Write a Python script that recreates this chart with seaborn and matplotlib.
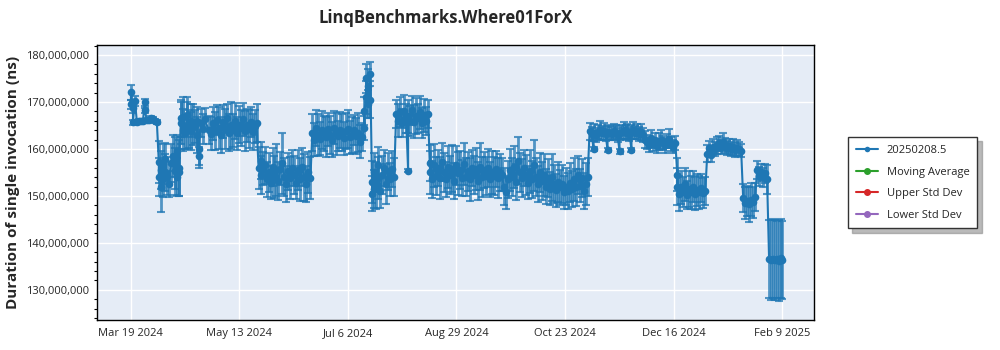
import datetime as dt

import matplotlib
matplotlib.use("Agg")
import matplotlib.pyplot as plt
import matplotlib.ticker as mticker
import numpy as np
import pandas as pd
import seaborn as sns

# Benchmark runs: day offset from the first run, mean duration and std dev (millions of ns)
first_run = dt.datetime(2024, 3, 19, 15, 36)
last_run = dt.datetime(2025, 2, 9, 4, 0)

day_offset = [
    0, 0, 1, 1, 2, 3, 4, 5, 6, 7, 7, 8, 9, 10, 11, 12, 13,
    14, 14, 15, 15, 16, 16, 17, 17, 18, 19, 20,
    21, 22, 22, 23, 23, 24, 24,
    25, 25, 26, 26, 27, 28, 28, 29, 30, 30, 31, 32, 33, 33, 34, 34, 35, 36, 37,
    39, 40, 41, 42, 43, 44, 45, 46, 47, 48, 49, 50, 51, 52, 53, 54, 55, 56, 57, 58, 59, 60, 61, 62, 63,
    64, 65, 65, 66, 67, 68, 69, 70, 71, 72, 73, 74, 75, 76, 77, 78, 79, 80, 81, 82, 83, 84, 85, 86, 87, 88, 89, 90,
    91, 92, 93, 94, 95, 96, 97, 98, 99, 100, 101, 102, 103, 104, 105, 106, 107, 108, 109, 110, 111, 112, 113, 114, 115, 116,
    117, 117, 118, 118, 119, 119, 120, 120,
    121, 121, 122, 122, 123, 124, 124, 125, 126, 127, 128, 129, 130, 131, 132,
    133, 134, 135, 136, 137, 138, 139, 139, 140, 141, 142, 143, 144, 145, 146, 147, 148, 149,
    150, 150, 151, 152, 153, 154, 155, 156, 157, 158, 159, 160, 161, 162, 163, 164, 165, 166, 167, 168,
    169, 170, 171, 172, 173, 174, 175, 176, 177, 178, 179, 180, 181, 182, 183, 184, 185, 186,
    187, 188, 189, 190, 191, 192, 193, 194, 195, 196, 197, 198, 199, 200, 201, 202, 203, 204, 205, 206,
    207, 208, 209, 210, 211, 212, 213, 214, 215, 216, 217, 218, 219, 220, 221, 222, 223, 224, 225, 226,
    227, 228, 229,
    230, 231, 232, 232, 233, 234, 235, 236, 237, 238, 239, 239, 240, 241, 242, 243, 244, 245, 245, 246,
    247, 248, 249, 250, 251, 251, 252, 253, 254, 255, 256, 257,
    258, 259, 260, 261, 262, 263, 264, 265, 266, 267, 268, 269, 270, 271, 272, 273,
    274, 274, 275, 276, 277, 278, 279, 280, 281, 282, 283, 284, 285, 286, 287, 288,
    289, 290, 291, 292, 293, 294, 295, 296, 297, 298, 299, 300, 301, 302, 303, 304, 305, 306,
    307, 308, 309, 310, 311, 312, 313,
    314, 315, 316, 317, 318, 319,
    320, 321, 322, 323, 324, 325, 326, 327,
]

mean_ms = [
    169.5, 172.1, 168.8, 165.7, 170.2, 165.8, 166.0, 166.0, 165.9, 169.9, 168.2, 166.1, 166.2, 166.6, 166.4, 166.0, 165.8,
    157.2, 154.0, 155.5, 152.0, 156.8, 153.5, 155.0, 157.8, 154.2, 152.5, 157.0,
    158.5, 155.3, 157.0, 154.0, 159.5, 156.0, 155.0,
    165.5, 166.5, 164.0, 166.8, 163.5, 165.0, 167.2, 164.2, 166.0, 163.8, 165.2, 164.8, 166.0, 163.0, 158.5, 160.0, 165.5, 164.2, 166.3,
    164.0, 163.2, 165.5, 163.8, 166.2, 164.5, 163.0, 165.8, 164.2, 166.5, 163.5, 165.0, 164.0, 166.0, 163.3, 165.2, 164.5, 166.3, 163.8, 165.0, 164.3, 165.8, 163.6, 164.8, 165.5,
    156.0, 157.5, 154.5, 155.8, 156.5, 153.5, 155.0, 152.8, 156.2, 154.0, 155.5, 153.2, 155.8, 157.0, 154.0, 152.5, 155.2, 153.8, 156.0, 154.5, 152.8, 155.5, 153.5, 156.2, 154.0, 152.6, 155.0, 153.8,
    163.5, 162.0, 164.5, 163.0, 162.2, 164.0, 163.3, 162.5, 164.2, 163.0, 162.0, 164.5, 163.2, 162.8, 164.0, 163.5, 162.3, 163.8, 164.2, 162.5, 163.0, 164.0, 162.8, 163.5, 161.5, 162.5,
    164.5, 168.0, 171.0, 175.0, 173.5, 169.5, 170.5, 176.0,
    150.5, 153.0, 151.5, 155.0, 152.2, 156.5, 153.8, 151.0, 154.5, 156.0, 152.5, 155.2, 153.5, 155.8, 154.0,
    167.5, 166.0, 167.8, 165.5, 168.0, 166.5, 155.4, 167.0, 166.0, 168.2, 165.8, 167.0, 166.5, 167.8, 165.5, 167.2, 166.0, 167.5,
    155.0, 157.0, 153.5, 156.5, 154.2, 156.0, 153.8, 157.2, 155.0, 153.5, 156.2, 154.5, 155.8, 153.2, 156.5, 154.8, 155.5, 153.8, 156.8, 154.0,
    155.2, 153.5, 156.0, 154.5, 155.8, 153.2, 156.2, 154.0, 155.5, 154.2, 156.0, 153.5, 155.0, 154.2, 155.8, 153.8, 155.0, 154.5,
    152.0, 150.8, 153.5, 155.5, 154.0, 156.2, 153.0, 157.5, 155.0, 153.8, 156.0, 154.5, 152.8, 155.2, 153.5, 156.5, 154.0, 152.5, 155.0, 153.2,
    154.5, 152.0, 153.8, 151.5, 154.0, 152.5, 151.2, 153.0, 151.8, 152.5, 150.8, 152.0, 151.0, 152.8, 151.5, 153.5, 151.8, 154.5, 152.2, 153.8,
    151.0, 152.5, 154.0,
    163.8, 163.2, 160.0, 163.5, 163.0, 163.6, 164.0, 163.4, 163.8, 163.2, 159.8, 163.6, 163.4, 163.2, 163.8, 163.5, 163.0, 159.5, 163.4, 163.6,
    164.0, 163.5, 163.8, 163.2, 159.8, 163.6, 164.0, 163.5, 163.8, 163.2, 163.6, 163.0,
    162.0, 161.5, 160.8, 162.3, 161.0, 161.8, 160.6, 161.5, 162.0, 161.2, 160.8, 161.6, 162.2, 161.0, 160.5, 161.3,
    154.5, 152.0, 150.5, 151.8, 150.8, 152.5, 150.2, 151.5, 150.8, 152.0, 150.5, 151.2, 150.8, 151.6, 150.6, 151.0,
    159.0, 160.2, 158.8, 160.5, 160.0, 160.8, 161.2, 160.5, 161.5, 160.8, 160.2, 160.6, 160.0, 160.5, 159.8, 160.2, 160.0, 159.6,
    149.5, 148.5, 149.0, 148.2, 149.2, 148.6, 149.8,
    155.5, 154.2, 155.0, 154.0, 154.8, 153.5,
    136.5, 136.3, 136.6, 136.4, 136.5, 136.2, 136.7, 136.4,
]

stddev_ms = [
    1.0, 1.6, 1.2, 0.5, 1.0, 0.4, 0.4, 0.4, 0.4, 0.8, 0.5, 0.4, 0.4, 0.4, 0.4, 0.4, 0.4,
    4.5, 4.0, 4.0, 5.5, 4.2, 3.8, 4.0, 3.5, 4.0, 2.8, 4.0,
    4.5, 5.0, 5.5, 4.0, 3.5, 6.0, 5.0,
    4.5, 4.0, 4.5, 4.2, 3.5, 5.0, 3.8, 4.0, 3.5, 4.0, 4.3, 3.5, 3.0, 3.8, 2.0, 4.0, 3.0, 3.2, 2.5,
    3.0, 3.5, 3.5, 4.0, 3.2, 4.5, 3.8, 3.5, 4.2, 3.0, 4.0, 5.0, 3.5, 3.8, 3.5, 4.0, 3.8, 3.5, 4.2, 3.5, 4.0, 3.2, 3.8, 3.5, 4.0,
    4.5, 4.0, 4.0, 3.5, 4.0, 3.8, 4.2, 3.5, 4.0, 4.5, 5.5, 4.0, 3.5, 6.5, 4.0, 3.8, 4.0, 4.5, 3.8, 4.0, 3.5, 4.2, 4.5, 4.0, 5.0, 3.8, 4.3, 4.5,
    4.0, 3.5, 3.8, 4.5, 3.5, 4.0, 3.8, 4.2, 3.5, 4.0, 3.8, 3.5, 4.5, 3.2, 3.8, 4.0, 3.5, 3.8, 4.0, 3.5, 3.8, 3.2, 3.8, 4.2, 3.5, 3.0,
    2.5, 3.0, 3.5, 3.0, 3.5, 3.0, 4.0, 2.5,
    3.8, 4.5, 4.0, 4.2, 5.0, 4.0, 4.5, 3.5, 4.0, 3.8, 4.2, 4.0, 3.5, 3.8, 4.0,
    3.0, 3.5, 3.2, 3.0, 3.5, 3.0, 0.4, 3.5, 3.2, 3.0, 3.5, 3.8, 3.0, 3.5, 3.2, 3.5, 3.0, 3.0,
    4.5, 3.8, 4.0, 4.5, 4.0, 3.8, 4.5, 4.0, 4.2, 3.8, 4.5, 4.0, 5.0, 3.8, 4.2, 4.5, 4.0, 3.8, 4.5, 4.0,
    4.2, 4.5, 3.8, 4.0, 4.5, 4.0, 5.0, 4.2, 3.8, 4.0, 4.0, 3.8, 4.5, 4.0, 3.8, 4.2, 4.0, 3.5,
    4.0, 3.5, 4.0, 4.5, 4.0, 4.5, 3.8, 5.0, 4.2, 4.0, 3.8, 4.2, 3.5, 4.5, 4.0, 5.5, 4.0, 3.8, 4.2, 4.0,
    4.5, 3.8, 4.0, 3.5, 5.0, 4.0, 3.5, 4.2, 3.8, 4.0, 3.5, 4.0, 3.8, 4.2, 3.8, 4.5, 4.0, 4.0, 3.5, 4.0,
    3.8, 4.5, 4.0,
    1.8, 1.5, 0.5, 1.8, 1.5, 1.5, 2.0, 1.5, 1.8, 1.5, 0.5, 1.6, 1.5, 1.4, 1.6, 1.5, 1.5, 0.5, 1.5, 1.4,
    1.8, 1.5, 1.6, 1.5, 0.5, 1.5, 1.8, 1.4, 1.6, 1.5, 1.7, 1.5,
    1.8, 1.5, 1.5, 1.8, 1.4, 1.6, 1.5, 1.8, 2.0, 1.5, 1.6, 1.5, 2.0, 1.5, 1.4, 1.5,
    3.5, 4.0, 3.8, 3.5, 3.2, 3.5, 3.0, 3.8, 3.5, 3.2, 3.6, 3.4, 3.5, 3.0, 3.2, 3.0,
    1.8, 1.5, 1.5, 1.6, 1.5, 1.8, 1.6, 1.5, 2.0, 1.6, 1.5, 1.6, 1.5, 1.7, 1.5, 1.6, 1.5, 1.4,
    3.0, 3.5, 3.2, 3.8, 3.5, 3.2, 3.0,
    2.0, 2.0, 1.8, 2.0, 2.0, 3.0,
    8.3, 8.5, 8.4, 8.5, 8.2, 8.6, 8.4, 8.3,
]

assert len(day_offset) == len(mean_ms) == len(stddev_ms)

series_names = ["20250208.5", "Moving Average", "Upper Std Dev", "Lower Std Dev"]
series_colors = ["#1f77b4", "#2ca02c", "#d62728", "#9467bd"]
title = "LinqBenchmarks.Where01ForX"
y_label = "Duration of single invocation (ns)"

run_dates = [first_run + dt.timedelta(days=d) for d in day_offset]
run_dates[-1] = last_run
df = pd.DataFrame({
    "date": pd.to_datetime(run_dates),
    "duration": np.array(mean_ms) * 1e6,
    "stddev": np.array(stddev_ms) * 1e6,
})

sns.set_style("whitegrid", rc={
    "axes.facecolor": "#E5ECF6",
    "grid.color": "white",
    "axes.edgecolor": "black",
})
plt.rcParams["font.family"] = ["Open Sans", "DejaVu Sans"]

fig = plt.figure(figsize=(10, 3.5), dpi=100)
ax = fig.add_axes([0.097, 0.086, 0.717, 0.785])

# error bars drawn under the main series
ax.errorbar(df["date"], df["duration"], yerr=df["stddev"], fmt="none",
            ecolor=series_colors[0], alpha=0.75, elinewidth=2, capsize=3,
            capthick=1.5, zorder=2)
sns.lineplot(data=df, x="date", y="duration", estimator=None, sort=False,
             color=series_colors[0], marker="o", markersize=5.5,
             markeredgewidth=0, linewidth=1.5, ax=ax, zorder=3,
             label=series_names[0])
for name, color in zip(series_names[1:], series_colors[1:]):
    ax.plot([], [], color=color, marker="o", markersize=4, label=name)

ax.set_ylim(123.6e6, 182.1e6)
ax.set_xlim(pd.Timestamp(first_run) - pd.Timedelta(days=17),
            pd.Timestamp(last_run) + pd.Timedelta(days=16))

ax.yaxis.set_major_locator(mticker.MultipleLocator(10e6))
ax.yaxis.set_minor_locator(mticker.MultipleLocator(2e6))
ax.yaxis.set_major_formatter(mticker.FuncFormatter(lambda v, _: f"{v:,.0f}"))

tick_dates = pd.to_datetime(np.linspace(pd.Timestamp(first_run).value,
                                        pd.Timestamp(last_run).value, 7))
ax.set_xticks(tick_dates)
ax.set_xticklabels([f"{d:%b} {d.day} {d.year}" for d in tick_dates])

ax.tick_params(axis="both", which="major", direction="out", length=4,
               width=1, color="black", labelsize=8, labelcolor="#262626", pad=2)
ax.tick_params(axis="y", which="minor", direction="out", length=2, width=0.8,
               color="black", left=True)
ax.grid(True, which="major", color="white", linewidth=1)
ax.grid(False, which="minor")
for spine in ax.spines.values():
    spine.set_color("black")
    spine.set_linewidth(1)

ax.set_xlabel("")
ax.set_ylabel(y_label, fontsize=11, fontweight="bold", labelpad=4)
fig.text(0.446, 0.948, title, ha="center", va="center", fontsize=12,
         fontweight="bold")

ax.get_legend().remove()
handles, labels = ax.get_legend_handles_labels()
leg = fig.legend(handles, labels, loc="upper left",
                 bbox_to_anchor=(0.848, 0.608), borderaxespad=0,
                 frameon=True, fancybox=False,
                 shadow={"ox": 3, "oy": -3, "color": "#8c8c8c", "alpha": 0.6},
                 framealpha=1, facecolor="white", edgecolor="#333333",
                 fontsize=8, handlelength=2, borderpad=0.7, labelspacing=0.95)
leg.get_frame().set_linewidth(1)
for h in leg.legend_handles:
    h.set_markersize(4)

fig.savefig("out.png", dpi=100)
